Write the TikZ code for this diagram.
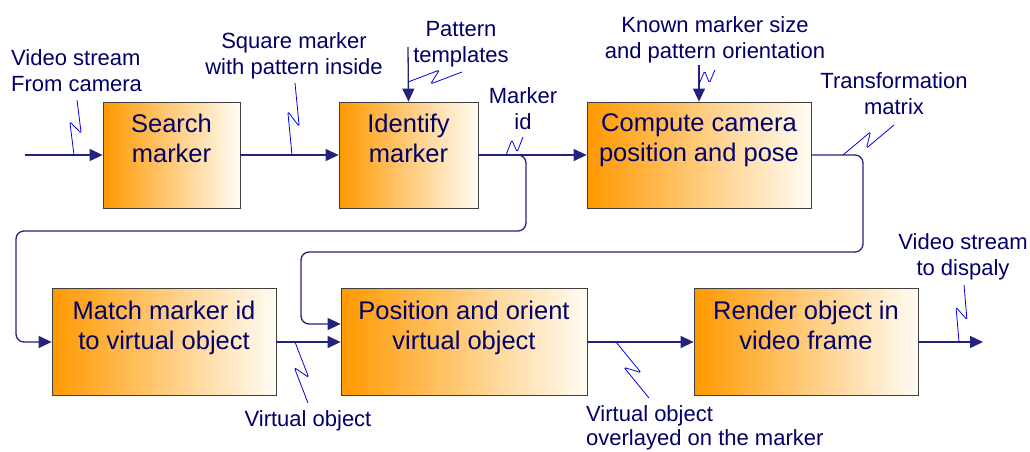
\documentclass[tikz,border=0pt]{standalone}
\usepackage{fontspec}
\setmainfont{Liberation Sans}
\usetikzlibrary{calc,positioning,arrows.meta}

\definecolor{navy}{RGB}{0,0,102}
\definecolor{flowcol}{RGB}{35,35,125}
\definecolor{calloutcol}{RGB}{0,0,230}
\definecolor{boxorange}{RGB}{255,153,0}
\definecolor{boxwhite}{RGB}{255,252,244}

\tikzset{
  box/.style={draw=black!75, line width=0.8pt, left color=boxorange, right color=boxwhite,
    minimum height=106pt, inner sep=0pt},
  boxtext/.style={text=navy, font=\fontsize{25.5}{30}\selectfont, align=center, inner sep=0pt},
  note/.style={text=navy, font=\fontsize{22}{26}\selectfont, align=center, inner sep=0pt},
  flow/.style={draw=flowcol, line width=1.3pt, -{Triangle[length=13pt,width=12pt]}, rounded corners=8pt},
  callout/.style={draw=calloutcol, line width=0.8pt, rounded corners=1.5pt},
}

\newcommand\zigline[2]{%
  \path ($(#1)!0.6!(#2)$) coordinate (zA) ($(#1)!0.4!(#2)$) coordinate (zB);
  \draw[callout] (#1) -- ($(zA)!6pt!90:(#2)$) -- ($(zB)!6pt!-90:(#2)$) -- (#2);}

\begin{document}
\begin{tikzpicture}[x=1pt,y=-1pt]
\useasboundingbox (0,0) rectangle (1030,452);

\node[box, minimum width=137pt] (search) at (171.5,155) {};
\node[box, minimum width=139pt] (identify) at (408.5,155) {};
\node[box, minimum width=224pt] (compute) at (699,155) {};
\node[box, minimum width=224pt, minimum height=107pt] (match) at (164,342) {};
\node[box, minimum width=246pt, minimum height=107pt] (position) at (464,342) {};
\node[box, minimum width=224pt, minimum height=107pt] (render) at (806,342) {};

\node[boxtext, below=12pt of search.north] (search-t) {Search\\marker};
\node[boxtext, below=12pt of identify.north] (identify-t) {Identify\\marker};
\node[boxtext, below=12pt of compute.north] (compute-t) {Compute camera\\position and pose};
\node[boxtext, below=13pt of match.north] (match-t) {Match marker id\\to virtual object};
\node[boxtext, below=13pt of position.north] (position-t) {Position and orient\\virtual object};
\node[boxtext, below=13pt of render.north] (render-t) {Render object in\\video frame};

\node[note, anchor=north west, align=left] (vsin) at (11,49) {Video stream\\From camera};
\node[note, anchor=north] (sqm) at (294,32) {Square marker\\with pattern inside};
\node[note, anchor=north] (pat) at (461,21) {Pattern\\templates};
\node[note, anchor=north] (mid) at (523,87) {Marker\\id};
\node[note, anchor=north] (kms) at (715,16) {Known marker size\\and pattern orientation};
\node[note, anchor=north] (trm) at (894,72) {Transformation\\matrix};
\node[note, anchor=north] (vo) at (308,410) {Virtual object};
\node[note, anchor=north west, align=left, font=\fontsize{22}{24.5}\selectfont] (vov) at (586,405) {Virtual object\\overlayed on the marker};
\node[note, anchor=north] (vsout) at (963,233) {Video stream\\to dispaly};

\coordinate (in) at (25,155);
\coordinate (out) at (983,342);
\coordinate (pat-in) at (408,47);
\coordinate (kms-in) at (699,65);
\coordinate (loopA) at (526,231);
\coordinate (loopA2) at (16,342);
\coordinate (loopB) at (863,252);
\coordinate (loopB2) at (301,324);

\draw[flow] (in) -- (search.west);
\draw[flow] (search.east) -- (identify.west);
\draw[flow] (identify.east) -- (compute.west);
\draw[flow] (pat-in) -- (identify.north);
\draw[flow] (kms-in) -- (compute.north);
\draw[flow] (identify.east) -| (loopA) -| (loopA2) -- (match.west);
\draw[flow] (compute.east) -| (loopB) -| (loopB2) -- (position.west |- loopB2);
\draw[flow] (match.east) -- (position.west);
\draw[flow] (position.east) -- (render.west);
\draw[flow] (render.east) -- (out);

\coordinate (c1a) at (77,100);  \coordinate (c1b) at (74,155);
\coordinate (c2a) at (295,83);  \coordinate (c2b) at (292,155);
\coordinate (c3a) at (462,72);  \coordinate (c3b) at (408,82);
\coordinate (c4a) at (523,137); \coordinate (c4b) at (506,155);
\coordinate (c5a) at (715,70);  \coordinate (c5b) at (699,84);
\coordinate (c6a) at (894,125); \coordinate (c6b) at (843,155);
\coordinate (c7a) at (295,342); \coordinate (c7b) at (308,403);
\coordinate (c8a) at (616,342); \coordinate (c8b) at (649,398);
\coordinate (c9a) at (964,285); \coordinate (c9b) at (959,342);
\foreach \n in {1,...,9}{
  \zigline{c\n a}{c\n b}
}
\end{tikzpicture}
\end{document}
